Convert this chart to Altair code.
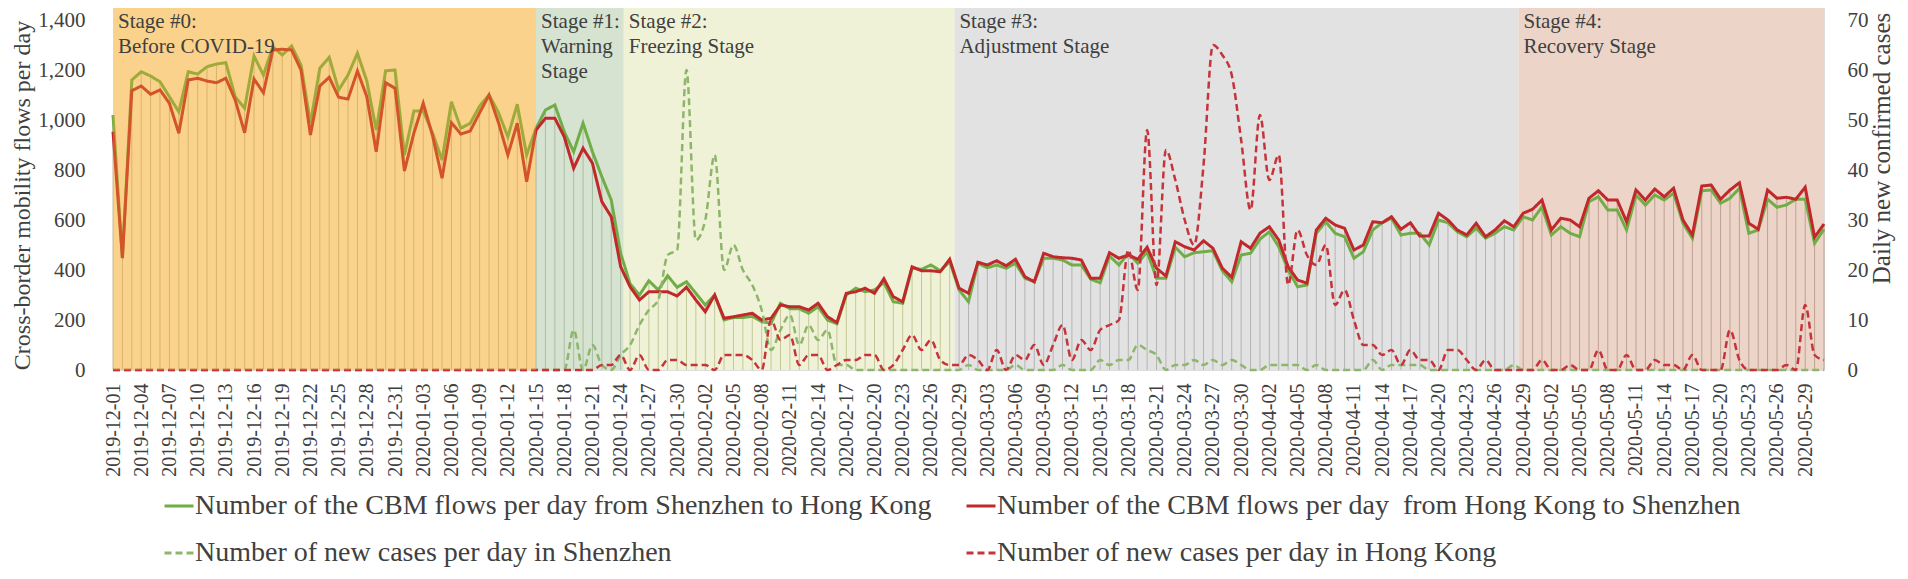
import altair as alt
import pandas as pd

# ---------------- data ----------------
dates = pd.date_range("2019-12-01", "2020-05-31", freq="D").strftime("%Y-%m-%d").tolist()

sz_to_hk = [
    1020, 450, 1160, 1193, 1176, 1153, 1093, 1033, 1193, 1184,
    1213, 1224, 1229, 1093, 1047, 1256, 1180, 1293, 1260, 1296,
    1220, 987, 1207, 1251, 1120, 1180, 1267, 1156, 960, 1197,
    1200, 860, 1036, 1036, 947, 840, 1073, 967, 987, 1056,
    1100, 1030, 933, 1063, 860, 967, 1040, 1060, 953, 873,
    987, 873, 773, 680, 467, 345, 300, 357, 320, 377,
    331, 353, 307, 260, 300, 200, 210, 210, 215, 193,
    187, 267, 245, 245, 227, 253, 200, 185, 300, 327,
    313, 320, 350, 273, 267, 407, 403, 420, 397, 433,
    320, 273, 427, 409, 420, 407, 427, 367, 353, 447,
    447, 440, 420, 420, 363, 349, 456, 420, 467, 427,
    473, 367, 367, 491, 453, 469, 473, 477, 397, 353,
    460, 467, 523, 553, 493, 400, 333, 340, 547, 593,
    547, 533, 447, 473, 560, 589, 607, 540, 547, 547,
    500, 600, 589, 553, 533, 567, 527, 547, 573, 560,
    613, 600, 653, 540, 573, 547, 533, 673, 693, 640,
    640, 560, 700, 660, 700, 680, 707, 587, 527, 717,
    720, 667, 687, 727, 547, 560, 683, 651, 660, 683,
    683, 507, 563,
]
hk_to_sz = [
    953, 447, 1117, 1136, 1103, 1120, 1067, 947, 1160, 1167,
    1156, 1149, 1167, 1080, 949, 1164, 1109, 1280, 1283, 1280,
    1200, 940, 1136, 1171, 1091, 1084, 1196, 1093, 873, 1149,
    1127, 796, 947, 1067, 936, 767, 989, 944, 956, 1029,
    1100, 990, 860, 987, 753, 960, 1007, 1007, 933, 807,
    887, 827, 673, 613, 413, 333, 280, 313, 313, 313,
    296, 331, 280, 233, 300, 207, 213, 220, 227, 200,
    207, 260, 253, 253, 240, 267, 213, 190, 307, 313,
    327, 307, 365, 293, 273, 413, 397, 397, 393, 443,
    327, 307, 431, 420, 437, 417, 443, 373, 353, 467,
    453, 449, 447, 440, 367, 367, 469, 447, 460, 443,
    491, 407, 376, 513, 493, 480, 517, 487, 407, 371,
    513, 487, 547, 573, 520, 413, 360, 347, 560, 607,
    580, 567, 480, 500, 593, 589, 613, 563, 589, 536,
    536, 627, 600, 560, 540, 587, 533, 560, 597, 573,
    627, 643, 680, 560, 607, 600, 573, 687, 717, 680,
    680, 593, 720, 680, 724, 693, 727, 600, 540, 736,
    740, 683, 720, 749, 587, 563, 720, 687, 691, 683,
    731, 531, 584,
]
sz_cases = [
    0, 0, 0, 0, 0, 0, 0, 0, 0, 0,
    0, 0, 0, 0, 0, 0, 0, 0, 0, 0,
    0, 0, 0, 0, 0, 0, 0, 0, 0, 0,
    0, 0, 0, 0, 0, 0, 0, 0, 0, 0,
    0, 0, 0, 0, 0, 0, 0, 0, 0, 8,
    0, 5, 1, 0, 3, 5, 9, 12, 14, 23,
    24, 60, 26, 30, 43, 20, 25, 20, 17, 12,
    4, 8, 11, 5, 9, 6, 8, 1, 1, 0,
    0, 0, 0, 0, 0, 0, 0, 0, 0, 0,
    0, 1, 0, 0, 0, 0, 1, 0, 0, 0,
    0, 1, 0, 0, 0, 2, 1, 2, 2, 5,
    4, 3, 0, 1, 1, 2, 1, 2, 1, 2,
    1, 0, 0, 1, 1, 1, 1, 0, 1, 0,
    0, 0, 0, 0, 2, 0, 1, 1, 1, 1,
    0, 0, 0, 0, 0, 0, 0, 0, 0, 1,
    0, 0, 0, 0, 0, 0, 0, 0, 0, 0,
    0, 0, 0, 0, 0, 0, 0, 0, 0, 0,
    0, 0, 0, 0, 0, 0, 0, 0, 0, 0,
    0, 0, 0,
]
hk_cases = [
    0, 0, 0, 0, 0, 0, 0, 0, 0, 0,
    0, 0, 0, 0, 0, 0, 0, 0, 0, 0,
    0, 0, 0, 0, 0, 0, 0, 0, 0, 0,
    0, 0, 0, 0, 0, 0, 0, 0, 0, 0,
    0, 0, 0, 0, 0, 0, 0, 0, 0, 0,
    0, 0, 1, 1, 3, 0, 3, 0, 0, 2,
    2, 1, 1, 1, 0, 3, 3, 3, 2, 0,
    10, 6, 7, 1, 3, 3, 0, 1, 2, 2,
    3, 3, 0, 1, 4, 7, 4, 6, 2, 1,
    1, 3, 2, 0, 4, 0, 3, 2, 5, 1,
    5, 9, 2, 6, 4, 8, 9, 10, 24, 16,
    48, 17, 44, 38, 30, 25, 41, 65, 63, 59,
    46, 32, 51, 38, 43, 17, 28, 23, 21, 25,
    13, 16, 10, 5, 5, 3, 4, 1, 4, 2,
    2, 0, 4, 4, 2, 0, 2, 0, 0, 0,
    0, 0, 2, 0, 0, 1, 0, 0, 4, 0,
    0, 3, 0, 0, 2, 1, 1, 0, 3, 0,
    0, 0, 8, 2, 0, 0, 0, 0, 1, 0,
    13, 3, 2,
]

series_names = [
    "Number of the CBM flows per day from Shenzhen to Hong Kong",
    "Number of the CBM flows per day\u00a0 from Hong Kong to Shenzhen",
    "Number of new cases per day in Shenzhen",
    "Number of new cases per day in Hong Kong",
]

stage_ids = ["0", "1", "2", "3", "4"]
stage_labels = [
    "Stage #0:\nBefore COVID-19",
    "Stage #1:\nWarning\nStage",
    "Stage #2:\nFreezing Stage",
    "Stage #3:\nAdjustment Stage",
    "Stage #4:\nRecovery Stage",
]
stage_starts = ["2019-12-01T00:00:00Z", "2020-01-15T00:00:00Z", "2020-01-24T08:00:00Z",
                "2020-02-28T12:00:00Z", "2020-04-28T12:00:00Z"]
period_end = "2020-05-31T00:00:00Z"

tick_dates = pd.date_range("2019-12-01", "2020-05-31", freq="3D")

# ---------------- styles ----------------
W, H = 1711, 362
FONT = "Liberation Serif"
TXT = "#404040"
bg_colors = ["#FCEAC4", "#D5E3D0", "#F0F2D8", "#E2E2E2", "#ECD5C8"]
drop_colors = ["#C7BB96", "#AABEA5", "#C3C896", "#B4B4B4", "#BEA091"]
series_colors = ["#70AD47", "#C0282B", "#8DB66B", "#C5343A"]
series_dash = [[1, 0], [1, 0], [7, 4], [7, 4]]

# ---------------- tables ----------------
def ms(s):
    return int(pd.Timestamp(s, tz="UTC").value // 10**6)

stage_df = pd.DataFrame({
    "stage": stage_ids,
    "label": stage_labels,
    "start": stage_starts,
    "end": stage_starts[1:] + [period_end],
})

df = pd.DataFrame({"date": dates, "sz_hk": sz_to_hk, "hk_sz": hk_to_sz,
                   "sz_c": sz_cases, "hk_c": hk_cases})
df["base"] = 0
df["top"] = df[["sz_hk", "hk_sz"]].max(axis=1)
start_ts = [pd.Timestamp(s) for s in stage_starts]
df["stage"] = [stage_ids[sum(1 for s in start_ts if pd.Timestamp(d, tz="UTC") >= s) - 1] for d in dates]

flows = df.melt(id_vars=["date"], value_vars=["sz_hk", "hk_sz"], var_name="k", value_name="v")
flows["series"] = flows["k"].map({"sz_hk": series_names[0], "hk_sz": series_names[1]})
cases = df.melt(id_vars=["date"], value_vars=["sz_c", "hk_c"], var_name="k", value_name="v")
cases["series"] = cases["k"].map({"sz_c": series_names[2], "hk_c": series_names[3]})

# ---------------- scales / axes ----------------
xscale = alt.Scale(type="utc", domain=[ms(dates[0]), ms(dates[-1])])
xaxis = alt.Axis(values=[int(t.value // 10**6) for t in tick_dates.tz_localize("UTC")],
                 labelExpr="utcFormat(datum.value, '%Y-%m-%d')",
                 labelAngle=-90, labelFont=FONT, labelFontSize=20, labelColor=TXT,
                 labelPadding=13, ticks=False, tickSize=0, domain=False, grid=False,
                 title=None, labelOverlap=False)

def X(field):
    return alt.X(field, type="temporal", scale=xscale, axis=xaxis)

yflow_scale = alt.Scale(domain=[0, 1448], nice=False, zero=True)
yflow_axis = alt.Axis(values=[0, 200, 400, 600, 800, 1000, 1200, 1400], format=",d",
                      orient="left", ticks=False, tickSize=0, domain=False, grid=False,
                      labelFont=FONT, labelFontSize=21, labelColor=TXT, labelPadding=28,
                      title="Cross-border mobility flows per day", titleFont=FONT,
                      titleFontSize=24, titleFontWeight="normal", titleColor=TXT,
                      titleAngle=270, titleBaseline="alphabetic", titleX=-84, titleY=187)
ycase_scale = alt.Scale(domain=[0, 72.4], nice=False, zero=True)
ycase_axis = alt.Axis(values=[0, 10, 20, 30, 40, 50, 60, 70], format="d",
                      orient="right", ticks=False, tickSize=0, domain=False, grid=False,
                      labelFont=FONT, labelFontSize=21, labelColor=TXT, labelPadding=23,
                      title="Daily new confirmed cases", titleFont=FONT,
                      titleFontSize=25, titleFontWeight="normal", titleColor=TXT,
                      titleAngle=270, titleBaseline="alphabetic", titleX=65, titleY=140)

legend = alt.Legend(orient="none", legendX=50, legendY=482, columns=2, direction="horizontal",
                    title=None,
                    symbolType="stroke", symbolSize=841, symbolStrokeWidth=3,
                    labelFont=FONT, labelFontSize=28, labelColor=TXT, labelLimit=2000,
                    labelOffset=0, columnPadding=28, rowPadding=17, padding=0,
                    symbolOpacity=1)
color_enc = alt.Color("series:N", scale=alt.Scale(domain=series_names, range=series_colors),
                      legend=legend)
dash_enc = alt.StrokeDash("series:N", scale=alt.Scale(domain=series_names, range=series_dash),
                          legend=legend)

# ---------------- layers ----------------
bg = alt.Chart(stage_df).mark_rect().encode(
    x=X("start"), x2="end:T",
    y=alt.value(0), y2=alt.value(H),
    fill=alt.Fill("stage:N", scale=alt.Scale(domain=stage_ids, range=bg_colors), legend=None),
)

drops = alt.Chart(df).mark_rule(strokeWidth=1).encode(
    x=X("date"),
    y=alt.Y("base:Q", scale=yflow_scale, axis=yflow_axis),
    y2="top:Q",
    stroke=alt.Stroke("stage:N", scale=alt.Scale(domain=stage_ids, range=drop_colors), legend=None),
)

flow_lines = alt.Chart(flows).mark_line(strokeWidth=3).encode(
    x=X("date"),
    y=alt.Y("v:Q", scale=yflow_scale, axis=yflow_axis),
    color=color_enc, strokeDash=dash_enc,
    detail="series:N",
)

case_lines = alt.Chart(cases).mark_line(strokeWidth=2.5, interpolate="monotone").encode(
    x=X("date"),
    y=alt.Y("v:Q", scale=ycase_scale, axis=ycase_axis),
    color=color_enc, strokeDash=dash_enc,
    detail="series:N",
)

overlay = alt.Chart(stage_df).transform_filter(alt.datum.stage == "0").mark_rect(
    fill="#F5A623", opacity=0.35
).encode(x=X("start"), x2="end:T", y=alt.value(0), y2=alt.value(H))

labels = alt.Chart(stage_df).mark_text(
    align="left", baseline="top", dx=5, lineBreak="\n", lineHeight=25,
    font=FONT, fontSize=21, color=TXT
).encode(x=X("start"), y=alt.value(3), text="label:N")

chart = alt.layer(
    bg, alt.layer(drops, flow_lines), case_lines, overlay, labels
).resolve_scale(y="independent").properties(
    width=W, height=H,
    autosize=alt.AutoSizeParams(type="none"),
    padding={"left": 105, "top": 0, "right": 76, "bottom": 201},
).configure_view(stroke=None).configure(font=FONT)

chart.save("out.html", embed_options={"renderer": "svg", "actions": False})
